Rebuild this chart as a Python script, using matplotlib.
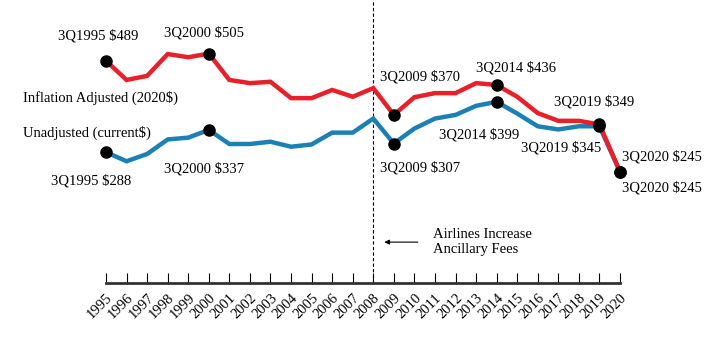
"""Average domestic air fare, 1995-2020: inflation adjusted vs unadjusted."""
import matplotlib
matplotlib.use("Agg")
import matplotlib.pyplot as plt

years = list(range(1995, 2021))
adjusted = [489, 447, 456, 504, 497, 505, 447, 440, 443, 407, 407, 425, 410,
            429, 370, 409, 418, 418, 440, 436, 410, 374, 357, 357, 349, 245]
unadjusted = [288, 268, 284, 316, 320, 337, 306, 306, 311, 300, 305, 331, 331,
              362, 307, 340, 362, 370, 390, 399, 373, 345, 338, 345, 345, 245]

# (year, series, label, offset in pixels)
callouts = [
    (1995, adjusted, "3Q1995 $489", (-8, 25)),
    (2000, adjusted, "3Q2000 $505", (-5, 21)),
    (1995, unadjusted, "3Q1995 $288", (-15, -29)),
    (2000, unadjusted, "3Q2000 $337", (-5, -39)),
    (2009, adjusted, "3Q2009 $370", (26, 38)),
    (2009, unadjusted, "3Q2009 $307", (26, -24)),
    (2014, adjusted, "3Q2014 $436", (19, 17)),
    (2014, unadjusted, "3Q2014 $399", (-18, -33)),
    (2019, adjusted, "3Q2019 $349", (-5, 23)),
    (2019, unadjusted, "3Q2019 $345", (-38, -21)),
    (2020, adjusted, "3Q2020 $245", (42, 15)),
    (2020, unadjusted, "3Q2020 $245", (42, -16)),
]

RED = "#E8202A"
BLUE = "#1A80B6"
plt.rcParams["font.family"] = "Liberation Serif"

W, H = 725, 344
fig = plt.figure(figsize=(W / 100, H / 100), dpi=100)
ax = fig.add_axes([106 / W, 61 / H, (620 - 106) / W, 1 - 61 / H])

ax.plot(years, adjusted, color=RED, lw=3.2, solid_joinstyle="miter",
        zorder=3, clip_on=False)
ax.plot(years, unadjusted, color=BLUE, lw=3.2, solid_joinstyle="miter",
        zorder=2, clip_on=False)

for yr, series, label, (dx, dy) in callouts:
    val = series[years.index(yr)]
    ax.plot(yr, val, "o", color="black", ms=8, zorder=4, clip_on=False)
    ax.annotate(label, (yr, val), xytext=(dx * 0.72, dy * 0.72),
                textcoords="offset points", ha="center", va="center",
                fontsize=10.5)

ax.axvline(2008, color="black", lw=0.8, ls=(0, (3, 2)), zorder=1)
ax.annotate("", xy=(2008.4, 90), xytext=(2010.3, 90),
            arrowprops=dict(arrowstyle="-|>", color="black", lw=0.8,
                            mutation_scale=7))
ax.text(2010.9, 90, "Airlines Increase\nAncillary Fees", ha="left",
        va="center", fontsize=10.5, linespacing=1.15)

fig.text(23 / W, 1 - 98 / H, "Inflation Adjusted (2020$)", ha="left",
         va="center", fontsize=10.5)
fig.text(23 / W, 1 - 133 / H, "Unadjusted (current$)", ha="left",
         va="center", fontsize=10.5)

ax.set_xlim(1995, 2020)
ax.set_ylim(0, 623)
ax.set_xticks(years)
ax.set_xticklabels([str(y) for y in years], rotation=45, ha="right",
                   rotation_mode="anchor", fontsize=10.5)
ax.tick_params(axis="x", direction="in", length=7, width=0.8, pad=6)
ax.set_yticks([])
for side in ("top", "right", "left"):
    ax.spines[side].set_visible(False)
ax.spines["bottom"].set_linewidth(2)
ax.spines["bottom"].set_color("#333333")
ax.patch.set_alpha(0)

fig.savefig("out.png", dpi=100)
